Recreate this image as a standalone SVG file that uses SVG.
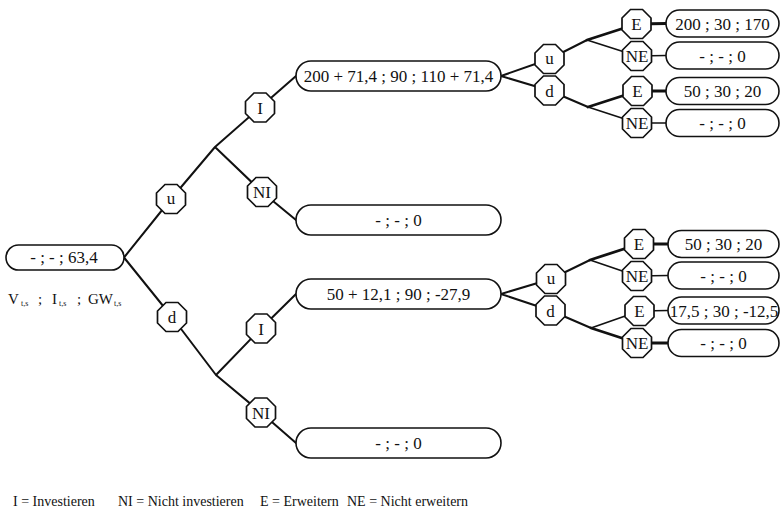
<svg xmlns="http://www.w3.org/2000/svg" xmlns:xlink="http://www.w3.org/1999/xlink" width="781" height="511" viewBox="0 0 781 511">
<style>
text{font-family:"Liberation Serif","Times New Roman",serif;fill:#111;}
.t{font-size:17px;text-anchor:middle;}
.lg{font-size:14px;}
.pill{fill:#fff;stroke:#111;stroke-width:1.6;}
.oct{fill:#fff;stroke:#111;stroke-width:1.7;}
.c{fill:none;stroke:#111;stroke-width:2;stroke-linejoin:round;stroke-linecap:round;}
.c .k{stroke-width:2.8;}
.c .n{stroke-width:1.7;}
</style>
<defs>
<polygon id="oct" class="oct" points="-6,-14.5 6,-14.5 14.5,-6 14.5,6 6,14.5 -6,14.5 -14.5,6 -14.5,-6"/>
</defs>
<rect width="781" height="511" fill="#fff"/>
<g id="connectors" class="c">
<path d="M124,257.5 L171,199 M124,257.5 L172,317"/>
<path d="M171,199 L215,147 L260,107.5 M215,147 L262,192"/>
<path d="M172,317 L216,375 L261,328.5 M216,375 L261,412.5"/>
<path d="M260,107.5 L296,76 M262,192 L296,220 M261,328.5 L296,294 M261,412.5 L296,443"/>
<path d="M501,76 L549.5,59 M501,76 L549.5,90.5"/>
<path d="M549.5,59 L587,40 M549.5,90.5 L588,107"/>
<path class="k" d="M587,40 L636.5,24 M636.5,24 L666,23.5"/>
<path class="n" d="M587,40 L637,56 M637,56 L666,55.5"/>
<path class="k" d="M588,107 L637.5,91 M637.5,91 L666,91"/>
<path class="n" d="M588,107 L637,123 M637,123 L666,123"/>
<path d="M501,294 L551,279 M501,294 L550.5,310.5"/>
<path d="M551,279 L590,260 M550.5,310.5 L591,328"/>
<path class="k" d="M590,260 L639,244 M639,244 L668,244"/>
<path class="n" d="M590,260 L637,276 M637,276 L668,275.5"/>
<path class="n" d="M591,328 L639.5,311 M639.5,311 L668,310.5"/>
<path class="k" d="M591,328 L637,343 M637,343 L668,343"/>
</g>
<g id="root"><rect class="pill" x="6" y="245" width="118" height="25" rx="12.5"/><text class="t" x="64" y="263">- ; - ; 63,4</text></g>
<g id="rootLabel"><text style="font-size:15px" y="304"><tspan x="8">V</tspan><tspan x="21" dy="2" style="font-size:8px">t,s</tspan><tspan x="38" dy="-2">;</tspan><tspan x="52">I</tspan><tspan x="59" dy="2" style="font-size:8px">t,s</tspan><tspan x="77" dy="-2">;</tspan><tspan x="88">GW</tspan><tspan x="114" dy="2" style="font-size:8px">t,s</tspan></text></g>
<g id="u1"><use xlink:href="#oct" x="171" y="199"/><text class="t" x="171" y="204">u</text></g>
<g id="d1"><use xlink:href="#oct" x="172" y="317"/><text class="t" x="172" y="323">d</text></g>
<g id="I1"><use xlink:href="#oct" x="260" y="107.5"/><text class="t" x="260" y="113.5">I</text></g>
<g id="NI1"><use xlink:href="#oct" x="262" y="192"/><text class="t" x="262" y="198">NI</text></g>
<g id="I2"><use xlink:href="#oct" x="261" y="328.5"/><text class="t" x="261" y="334.5">I</text></g>
<g id="NI2"><use xlink:href="#oct" x="261" y="412.5"/><text class="t" x="261" y="418.5">NI</text></g>
<g id="pI1"><rect class="pill" x="296" y="61" width="205" height="30" rx="15"/><text class="t" x="398.5" y="82">200 + 71,4 ; 90 ; 110 + 71,4</text></g>
<g id="pNI1"><rect class="pill" x="296" y="205" width="205" height="30" rx="15"/><text class="t" x="398.5" y="226">- ; - ; 0</text></g>
<g id="pI2"><rect class="pill" x="296" y="279" width="205" height="30" rx="15"/><text class="t" x="398.5" y="300">50 + 12,1 ; 90 ; -27,9</text></g>
<g id="pNI2"><rect class="pill" x="296" y="428" width="205" height="30" rx="15"/><text class="t" x="398.5" y="449">- ; - ; 0</text></g>
<g id="u3"><use xlink:href="#oct" x="549.5" y="59"/><text class="t" x="549.5" y="64">u</text></g>
<g id="d3"><use xlink:href="#oct" x="549.5" y="90.5"/><text class="t" x="549.5" y="96.5">d</text></g>
<g id="E3"><use xlink:href="#oct" x="636.5" y="24"/><text class="t" x="636.5" y="30">E</text></g>
<g id="NE3"><use xlink:href="#oct" x="637" y="56"/><text class="t" x="637" y="62">NE</text></g>
<g id="E4"><use xlink:href="#oct" x="637.5" y="91"/><text class="t" x="637.5" y="97">E</text></g>
<g id="NE4"><use xlink:href="#oct" x="637" y="123"/><text class="t" x="637" y="129">NE</text></g>
<g id="pE3"><rect class="pill" x="666" y="10" width="113" height="27" rx="13.5"/><text class="t" x="722.5" y="29.5">200 ; 30 ; 170</text></g>
<g id="pNE3"><rect class="pill" x="666" y="42" width="113" height="27" rx="13.5"/><text class="t" x="722.5" y="61.5">- ; - ; 0</text></g>
<g id="pE4"><rect class="pill" x="666" y="77.5" width="113" height="27" rx="13.5"/><text class="t" x="722.5" y="97">50 ; 30 ; 20</text></g>
<g id="pNE4"><rect class="pill" x="666" y="109.5" width="113" height="27" rx="13.5"/><text class="t" x="722.5" y="129">- ; - ; 0</text></g>
<g id="u5"><use xlink:href="#oct" x="551" y="279"/><text class="t" x="551" y="284">u</text></g>
<g id="d5"><use xlink:href="#oct" x="550.5" y="310.5"/><text class="t" x="550.5" y="316.5">d</text></g>
<g id="E5"><use xlink:href="#oct" x="639" y="244"/><text class="t" x="639" y="250">E</text></g>
<g id="NE5"><use xlink:href="#oct" x="637" y="276"/><text class="t" x="637" y="282">NE</text></g>
<g id="E6"><use xlink:href="#oct" x="639.5" y="311"/><text class="t" x="639.5" y="317">E</text></g>
<g id="NE6"><use xlink:href="#oct" x="637" y="343"/><text class="t" x="637" y="349">NE</text></g>
<g id="pE5"><rect class="pill" x="668" y="230.5" width="111" height="27" rx="13.5"/><text class="t" x="723.5" y="250">50 ; 30 ; 20</text></g>
<g id="pNE5"><rect class="pill" x="668" y="262" width="111" height="27" rx="13.5"/><text class="t" x="723.5" y="281.5">- ; - ; 0</text></g>
<g id="pE6"><rect class="pill" x="668" y="297" width="111" height="27" rx="13.5"/><text class="t" x="724" y="316.5">17,5 ; 30 ; -12,5</text></g>
<g id="pNE6"><rect class="pill" x="668" y="329.5" width="111" height="27" rx="13.5"/><text class="t" x="723.5" y="349">- ; - ; 0</text></g>
<g id="legend">
<text class="lg" x="13" y="506">I = Investieren</text>
<text class="lg" x="118" y="506">NI = Nicht investieren</text>
<text class="lg" x="260" y="506">E = Erweitern</text>
<text class="lg" x="347" y="506">NE = Nicht erweitern</text>
</g>
</svg>
